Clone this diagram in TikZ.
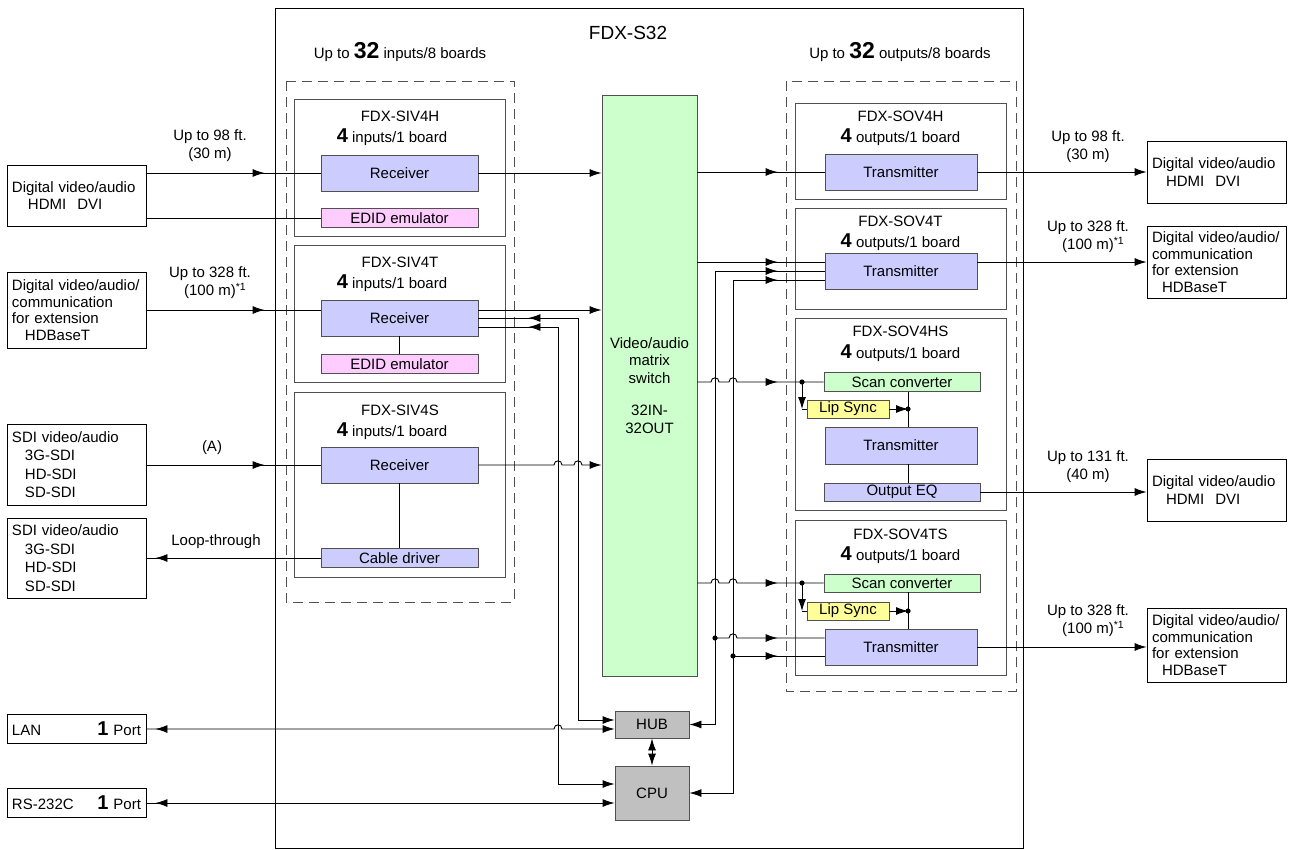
\documentclass[tikz,border=0pt]{standalone}
\usepackage{fontspec}
\setmainfont{Liberation Sans}
\usetikzlibrary{arrows.meta,calc,decorations.markings}

\definecolor{rxblue}{HTML}{CCCCFF}
\definecolor{edidpink}{HTML}{FFCCFF}
\definecolor{mxgreen}{HTML}{CCFFCC}
\definecolor{lipyellow}{HTML}{FFFF99}
\definecolor{hubgray}{HTML}{C0C0C0}
\definecolor{edge}{HTML}{505050}

\newcommand{\bignum}[1]{{\fontsize{20}{20}\selectfont\bfseries #1}}
\newcommand{\grpnum}[1]{{\fontsize{23}{23}\selectfont\bfseries #1}}
\newcommand{\hop}[2]{-- (#1-4,#2) .. controls (#1-4,#2-5.5) and (#1+4,#2-5.5) .. (#1+4,#2)}

\tikzset{
  board/.style={draw=edge, minimum width=211pt, minimum height=#1, inner sep=0pt},
  blk/.style={draw=edge, fill=rxblue, minimum width=#1, inner sep=0pt},
  ext/.style={draw, minimum height=#1, text width=129pt, inner xsep=5pt, inner ysep=0pt, align=left},
  dist/.style={align=center, inner sep=0pt, font=\fontsize{15}{18}\selectfont},
  tipat/.style={postaction={decorate, decoration={markings, mark=at position #1 with {\arrow{>}}}}},
  tipback/.style={postaction={decorate, decoration={markings, mark=at position #1 with {\arrowreversed{>}}}}},
}

\begin{document}
\begin{tikzpicture}[x=1pt, y=-1pt, line width=0.9pt, font=\fontsize{15}{17.5}\selectfont, >={Latex[length=12pt,width=8pt]}]
\useasboundingbox (0,0) rectangle (1293,850);

% chassis and board groups
\draw (275,8) rectangle (1023,848);
\node[font=\fontsize{19}{21}\selectfont] (title) at (628,33) {FDX-S32};
\node[anchor=base] (ingrp) at (400,59) {Up to \grpnum{32} inputs/8 boards};
\node[anchor=base] (outgrp) at (900,59) {Up to \grpnum{32} outputs/8 boards};
\draw[edge, dash pattern=on 10pt off 6pt] (286,81) rectangle (514,602);
\draw[edge, dash pattern=on 10pt off 6pt] (786,81) rectangle (1016,691);

% input boards
\node[board=137pt] (bH) at (400,167.5) {};
\node[anchor=base] (bHt) at (400,122) {FDX-SIV4H};
\node[anchor=base] (bHn) at (392,143) {\bignum{4} inputs/1 board};
\node[blk=157pt, minimum height=36pt] (rxH) at (399.5,173) {Receiver};
\node[blk=157pt, minimum height=19pt, fill=edidpink] (edH) at (399.5,218) {EDID emulator};

\node[board=137pt] (bT) at (400,313.5) {};
\node[anchor=base] (bTt) at (400,268) {FDX-SIV4T};
\node[anchor=base] (bTn) at (392,289) {\bignum{4} inputs/1 board};
\node[blk=157pt, minimum height=36pt] (rxT) at (399.5,318) {Receiver};
\node[blk=157pt, minimum height=19pt, fill=edidpink] (edT) at (399.5,364) {EDID emulator};

\node[board=185pt] (bS) at (400,484.5) {};
\node[anchor=base] (bSt) at (400,415) {FDX-SIV4S};
\node[anchor=base] (bSn) at (392,436) {\bignum{4} inputs/1 board};
\node[blk=157pt, minimum height=36pt] (rxS) at (399.5,465) {Receiver};
\node[blk=157pt, minimum height=19pt] (cdS) at (399.5,558) {Cable driver};

% matrix, hub, cpu
\node[blk=95pt, minimum height=581pt, fill=mxgreen, align=center] (mat) at (649.5,385.5) {Video/audio\\matrix\\switch\\[15pt]32IN-\\32OUT};
\node[blk=74pt, minimum height=27pt, fill=hubgray] (hub) at (652,724.5) {HUB};
\node[blk=74pt, minimum height=54pt, fill=hubgray] (cpu) at (652,793) {CPU};

% output boards
\node[board=96pt] (oH) at (900.5,151) {};
\node[anchor=base] (oHt) at (900.5,122) {FDX-SOV4H};
\node[anchor=base] (oHn) at (900.5,143) {\bignum{4} outputs/1 board};
\node[blk=152pt, minimum height=36pt] (txH) at (901,172) {Transmitter};

\node[board=101pt] (oT) at (900.5,258.5) {};
\node[anchor=base] (oTt) at (900.5,227) {FDX-SOV4T};
\node[anchor=base] (oTn) at (900.5,248) {\bignum{4} outputs/1 board};
\node[blk=152pt, minimum height=36pt] (txT) at (901,271) {Transmitter};

\node[board=192pt] (oHS) at (900.5,414) {};
\node[anchor=base] (oHSt) at (900.5,337) {FDX-SOV4HS};
\node[anchor=base] (oHSn) at (900.5,358) {\bignum{4} outputs/1 board};
\node[blk=156pt, minimum height=19pt, fill=mxgreen] (scHS) at (902,382) {Scan converter};
\node[blk=82pt, minimum height=18pt, fill=lipyellow] (lipHS) at (848,409) {Lip Sync};
\node[blk=152pt, minimum height=37pt] (txHS) at (901,445.5) {Transmitter};
\node[blk=156pt, minimum height=18pt] (eqHS) at (902,492) {Output EQ};

\node[board=155pt] (oTS) at (900.5,597.5) {};
\node[anchor=base] (oTSt) at (900.5,539) {FDX-SOV4TS};
\node[anchor=base] (oTSn) at (900.5,560) {\bignum{4} outputs/1 board};
\node[blk=156pt, minimum height=18pt, fill=mxgreen] (scTS) at (902,583) {Scan converter};
\node[blk=82pt, minimum height=18pt, fill=lipyellow] (lipTS) at (848,611) {Lip Sync};
\node[blk=152pt, minimum height=36pt] (txTS) at (901,647) {Transmitter};

% outside equipment
\node[ext=61pt] (L1) at (76.5,195.5) {Digital video/audio\\\hspace*{16pt}HDMI\hspace{11pt}DVI};
\node[ext=76pt, font=\fontsize{15}{16.5}\selectfont] (L2) at (76.5,310) {Digital video/audio/\\communication\\for extension\\\hspace*{13pt}HDBaseT};
\node[ext=81pt, font=\fontsize{15}{18.5}\selectfont] (L3) at (76.5,464.5) {SDI video/audio\\\hspace*{13pt}3G-SDI\\\hspace*{13pt}HD-SDI\\\hspace*{13pt}SD-SDI};
\node[ext=80pt, font=\fontsize{15}{18.5}\selectfont] (L4) at (76.5,558) {SDI video/audio\\\hspace*{13pt}3G-SDI\\\hspace*{13pt}HD-SDI\\\hspace*{13pt}SD-SDI};
\node[ext=29pt] (lan) at (76.5,729) {LAN\hfill\bignum{1} Port\hspace*{6pt}};
\node[ext=29pt] (rs) at (76.5,803) {RS-232C\hfill\bignum{1} Port\hspace*{6pt}};

\node[ext=62pt] (R1) at (1216.5,172) {Digital video/audio\\\hspace*{14pt}HDMI\hspace{11pt}DVI};
\node[ext=72pt, font=\fontsize{15}{16.5}\selectfont] (R2) at (1216.5,262) {Digital video/audio/\\communication\\for extension\\\hspace*{10pt}HDBaseT};
\node[ext=62pt] (R3) at (1216.5,490) {Digital video/audio\\\hspace*{14pt}HDMI\hspace{11pt}DVI};
\node[ext=74pt, font=\fontsize{15}{16.5}\selectfont] (R4) at (1216.5,645) {Digital video/audio/\\communication\\for extension\\\hspace*{10pt}HDBaseT};

% cable lengths
\node[dist] (dL1) at (210,146) {Up to 98 ft.\\(30 m)};
\node[dist] (dL2) at (210,283) {Up to 328 ft.\\(100 m)\rlap{\textsuperscript{*1}}};
\node (dL3) at (212,448) {(A)};
\node (dL4) at (216,542) {Loop-through};
\node[dist] (dR1) at (1088,147) {Up to 98 ft.\\(30 m)};
\node[dist] (dR2) at (1088,237) {Up to 328 ft.\\(100 m)\rlap{\textsuperscript{*1}}};
\node[dist] (dR3) at (1088,467) {Up to 131 ft.\\(40 m)};
\node[dist] (dR4) at (1088,621) {Up to 328 ft.\\(100 m)\rlap{\textsuperscript{*1}}};

% wiring columns
\coordinate (vB) at (558,0);
\coordinate (vA) at (578,0);
\coordinate (vC) at (715,0);
\coordinate (vD) at (733,0);
\coordinate (vE) at (908,0);
\coordinate (vF) at (802,0);
\coordinate (rT2) at ($(rxT.east)+(0,9)$);
\coordinate (hubA) at ($(hub.west)+(0,-4.5)$);
\coordinate (lanA) at ($(hub.west)+(0,4.5)$);
\coordinate (cpuA) at ($(cpu.west)+(0,-9)$);
\coordinate (rsA) at ($(cpu.west)+(0,10)$);
\coordinate (tT1) at ($(txT.west)+(0,-9)$);
\coordinate (tT3) at ($(txT.west)+(0,9)$);
\coordinate (tTS1) at ($(txTS.west)+(0,-9)$);
\coordinate (tTS2) at ($(txTS.west)+(0,9)$);
\coordinate (tapHS) at (vF |- scHS.west);
\coordinate (tapTS) at (vF |- scTS.west);

% inputs
\draw[tipat=-56pt] (L1.east |- rxH.west) -- (rxH.west);
\draw (L1.east |- edH.west) -- (edH.west);
\draw[tipat=-56pt] (L2.east) -- (L2.east -| rxT.west);
\draw[tipat=-56pt] (L3.east |- rxS.west) -- (rxS.west);
\draw[tipback=9pt] (L4.east) -- (L4.east -| cdS.west);
\draw (rxT.south) -- (edT.north);
\draw (rxS.south) -- (cdS.north);

\draw[->] (rxH.east) -- (rxH.east -| mat.west);
\draw[->] (L2.east -| rxT.east) -- (L2.east -| mat.west);
\draw[->] (rxS.east) \hop{558}{465} \hop{578}{465} -- (rxS.east -| mat.west);
\draw[->, tipback=50pt] (rxT.east) -- (rxT.east -| vA) -- (vA |- hubA) -- (hubA);
\draw[->, tipback=50pt] (rT2) -- (rT2 -| vB) -- (vB |- cpuA) -- (cpuA);

% control ports
\draw[->, tipback=9pt] (lan.east) \hop{558}{729} -- (lanA);
\draw[->, tipback=9pt] (rs.east) -- (rsA);
\draw[<->] (hub.south) -- (cpu.north);

% outputs
\draw[tipat=-47pt] (mat.east |- txH.west) -- (txH.west);
\draw[->] (txH.east) -- (txH.east -| R1.west);

\draw[tipat=-47pt] (mat.east |- tT1) -- (tT1);
\draw[tipat=-47pt] (vC |- txT.west) -- (txT.west);
\draw[tipat=-47pt] (vD |- tT3) -- (tT3);
\draw[->] (tT1 -| txT.east) -- (tT1 -| R2.west);

\draw[tipat=-46pt] (mat.east |- scHS.west) \hop{715}{382} \hop{733}{382} -- (scHS.west);
\draw[->] (tapHS) -- (tapHS |- lipHS.west);
\draw (tapHS |- lipHS.west) -- (lipHS.west);
\draw[->] (lipHS.east) -- (lipHS.east -| vE);
\draw (scHS.south -| vE) -- (txHS.north -| vE);
\draw (txHS.south -| vE) -- (eqHS.north -| vE);
\draw[->] (eqHS.east) -- (eqHS.east -| R3.west);
\fill (tapHS) circle[radius=2.6pt];
\fill (lipHS.east -| vE) circle[radius=2.6pt];

\draw[tipat=-46pt] (mat.east |- scTS.west) \hop{715}{583} \hop{733}{583} -- (scTS.west);
\draw[->] (tapTS) -- (tapTS |- lipTS.west);
\draw (tapTS |- lipTS.west) -- (lipTS.west);
\draw[->] (lipTS.east) -- (lipTS.east -| vE);
\draw (scTS.south -| vE) -- (txTS.north -| vE);
\draw[tipat=-47pt] (vC |- tTS1) \hop{733}{638} -- (tTS1);
\draw[tipat=-47pt] (vD |- tTS2) -- (tTS2);
\draw[->] (txTS.east) -- (txTS.east -| R4.west);
\fill (tapTS) circle[radius=2.6pt];
\fill (lipTS.east -| vE) circle[radius=2.6pt];
\fill (vC |- tTS1) circle[radius=2.6pt];
\fill (vD |- tTS2) circle[radius=2.6pt];

\draw[->] (vC |- txT.west) -- (vC |- hub.east) -- (hub.east);
\draw[->] (vD |- tT3) -- (vD |- cpu.east) -- (cpu.east);
\end{tikzpicture}
\end{document}
